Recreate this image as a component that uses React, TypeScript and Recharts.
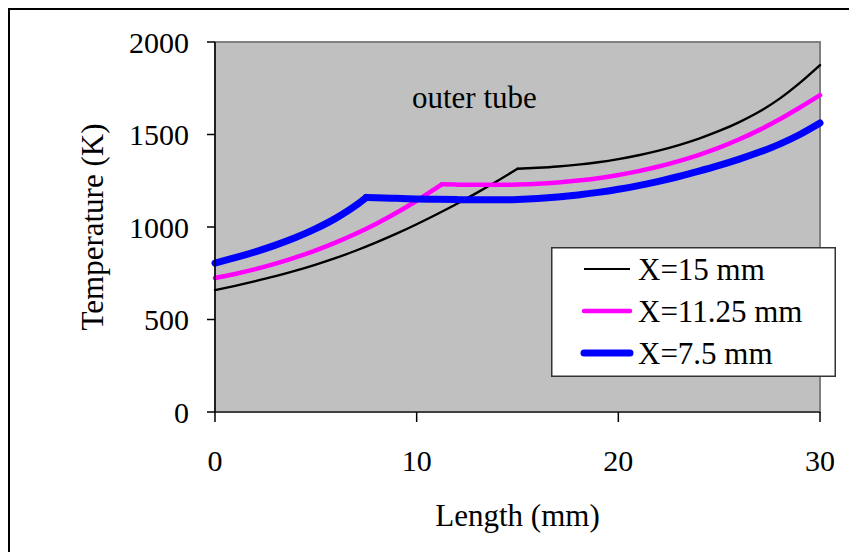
import React from 'react';
import { LineChart, Line, XAxis, YAxis, ReferenceArea, Legend } from 'recharts';

const FONT = "'Liberation Serif', 'Times New Roman', serif";

const xTicks = [0, 10, 20, 30];
const yTicks = [0, 500, 1000, 1500, 2000];

const seriesNames = ['X=15 mm', 'X=11.25 mm', 'X=7.5 mm'];
const seriesColors = ['#000000', '#ff00ff', '#0000ff'];
const seriesWidths = [2.4, 4.5, 7];
const seriesKinks = [15, 11.25, 7.5];

const lengthX15 = [0, 1, 2, 3, 4, 5, 6, 7, 8, 9, 10, 11, 12, 13, 14, 15, 16, 17, 18, 19, 20, 21, 22, 23, 24, 25, 26, 27, 28, 29, 30];
const tempX15 = [659, 682, 707, 734, 764, 797, 833, 873, 917, 964, 1015, 1069, 1126, 1186, 1249, 1315, 1320, 1327, 1337, 1350, 1367, 1388, 1413, 1443, 1478, 1519, 1567, 1624, 1694, 1779, 1875];

const lengthX1125 = [0, 1, 2, 3, 4, 5, 6, 7, 8, 9, 10, 11, 11.25, 12, 13, 14, 15, 16, 17, 18, 19, 20, 21, 22, 23, 24, 25, 26, 27, 28, 29, 30];
const tempX1125 = [724, 746, 772, 802, 836, 874, 917, 965, 1018, 1077, 1142, 1213, 1231, 1229, 1228, 1228, 1230, 1234, 1241, 1251, 1264, 1281, 1302, 1327, 1356, 1390, 1429, 1474, 1525, 1582, 1646, 1713];

const lengthX75 = [0, 1, 2, 3, 4, 5, 6, 7, 7.5, 8, 9, 10, 11, 12, 13, 14, 15, 16, 17, 18, 19, 20, 21, 22, 23, 24, 25, 26, 27, 28, 29, 30];
const tempX75 = [805, 834, 866, 902, 943, 991, 1048, 1118, 1160, 1158, 1155, 1152, 1150, 1148, 1147, 1147, 1149, 1154, 1162, 1173, 1187, 1204, 1224, 1247, 1273, 1302, 1333, 1367, 1405, 1448, 1500, 1562];

const toRows = (xs: number[], ts: number[]) => xs.map((x, i) => ({ x, t: ts[i] }));
const seriesData = [
  toRows(lengthX15, tempX15),
  toRows(lengthX1125, tempX1125),
  toRows(lengthX75, tempX75),
];

const tickStyle = { fill: '#000', fontSize: 30, fontFamily: FONT };

const XTitle = (props: any) => {
  const { x, y, width } = props.viewBox;
  return (
    <text x={x + width / 2} y={y + 114} textAnchor="middle" fontSize={31} fontFamily={FONT} fill="#000">
      Length (mm)
    </text>
  );
};

const YTitle = (props: any) => {
  const { y, height } = props.viewBox;
  const cx = 95;
  const cy = y + height / 2;
  return (
    <text x={cx} y={cy} transform={`rotate(-90, ${cx}, ${cy})`} textAnchor="middle" fontSize={31} fontFamily={FONT} fill="#000">
      Temperature (K)
    </text>
  );
};

const rowOffsets = [22, 64, 106];

const LegendBox = (props: any) => {
  const payload = props.payload || [];
  const ordered = seriesNames.map((n, i) => {
    const p = payload.find((q: any) => q.value === n);
    return { value: n, color: p ? p.color : seriesColors[i], width: seriesWidths[i] };
  });
  return (
    <svg width={285} height={130} style={{ display: 'block' }}>
      <rect x={0.75} y={0.75} width={283.5} height={128.5} fill="#ffffff" stroke="#333333" strokeWidth={1.5} />
      {ordered.map((p, i) => {
        const cy = rowOffsets[i];
        const w = i === 0 ? 2 : p.width;
        return (
          <g key={p.value}>
            <line x1={33} x2={79} y1={cy} y2={cy} stroke={p.color} strokeWidth={w} strokeLinecap={w > 3 ? 'round' : 'butt'} />
            <text x={87} y={cy + 11} fontSize={31} fontFamily={FONT} fill="#000">
              {p.value}
            </text>
          </g>
        );
      })}
    </svg>
  );
};

export default function App() {
  const lines: React.ReactNode[] = [];
  seriesNames.forEach((name, i) => {
    const rows = seriesData[i];
    const k = seriesKinks[i];
    const before = rows.filter((r) => r.x <= k);
    const after = rows.filter((r) => r.x >= k);
    lines.push(
      <Line
        key={name + '-a'}
        data={before}
        dataKey="t"
        name={name}
        type="monotone"
        stroke={seriesColors[i]}
        strokeWidth={seriesWidths[i]}
        strokeLinejoin="round"
        strokeLinecap="round"
        dot={false}
        activeDot={false}
        isAnimationActive={false}
      />
    );
    lines.push(
      <Line
        key={name + '-b'}
        data={after}
        dataKey="t"
        name={name + ' '}
        legendType="none"
        type="monotone"
        stroke={seriesColors[i]}
        strokeWidth={seriesWidths[i]}
        strokeLinejoin="round"
        strokeLinecap="round"
        dot={false}
        activeDot={false}
        isAnimationActive={false}
      />
    );
  });

  return (
    <div style={{ position: 'relative', width: 849, height: 544, overflow: 'hidden' }}>
      <LineChart width={849} height={544} margin={{ top: 34, right: 37, left: 87, bottom: 40 }}>
        <ReferenceArea x1={0} x2={30} y1={0} y2={2000} fill="#c0c0c0" fillOpacity={1} stroke="#808080" strokeWidth={2} />
        <XAxis
          type="number"
          dataKey="x"
          domain={[0, 30]}
          ticks={xTicks}
          height={100}
          tickSize={10}
          tickMargin={28}
          tick={tickStyle}
          axisLine={{ stroke: '#404040', strokeWidth: 2 }}
          tickLine={{ stroke: '#000', strokeWidth: 1.5 }}
          allowDuplicatedCategory={false}
          label={{ content: XTitle }}
        />
        <YAxis
          type="number"
          domain={[0, 2000]}
          ticks={yTicks}
          width={120}
          tickSize={8}
          tickMargin={18}
          tick={tickStyle}
          axisLine={{ stroke: '#000', strokeWidth: 1.5 }}
          tickLine={{ stroke: '#000', strokeWidth: 1.5 }}
          label={{ content: YTitle }}
        />
        {lines}
        <Legend
          layout="horizontal"
          verticalAlign="middle"
          align="center"
          content={LegendBox}
          wrapperStyle={{ position: 'absolute', left: 543, top: 239, width: 285, height: 130 }}
        />
      </LineChart>
      <svg width={849} height={544} style={{ position: 'absolute', left: 0, top: 0, pointerEvents: 'none' }}>
        <line x1={0} y1={1} x2={849} y2={1} stroke="#000" strokeWidth={2} />
        <line x1={1} y1={0} x2={1} y2={544} stroke="#000" strokeWidth={2} />
        <text x={404} y={100} fontSize={31} fontFamily={FONT} fill="#000">outer tube</text>
      </svg>
    </div>
  );
}
